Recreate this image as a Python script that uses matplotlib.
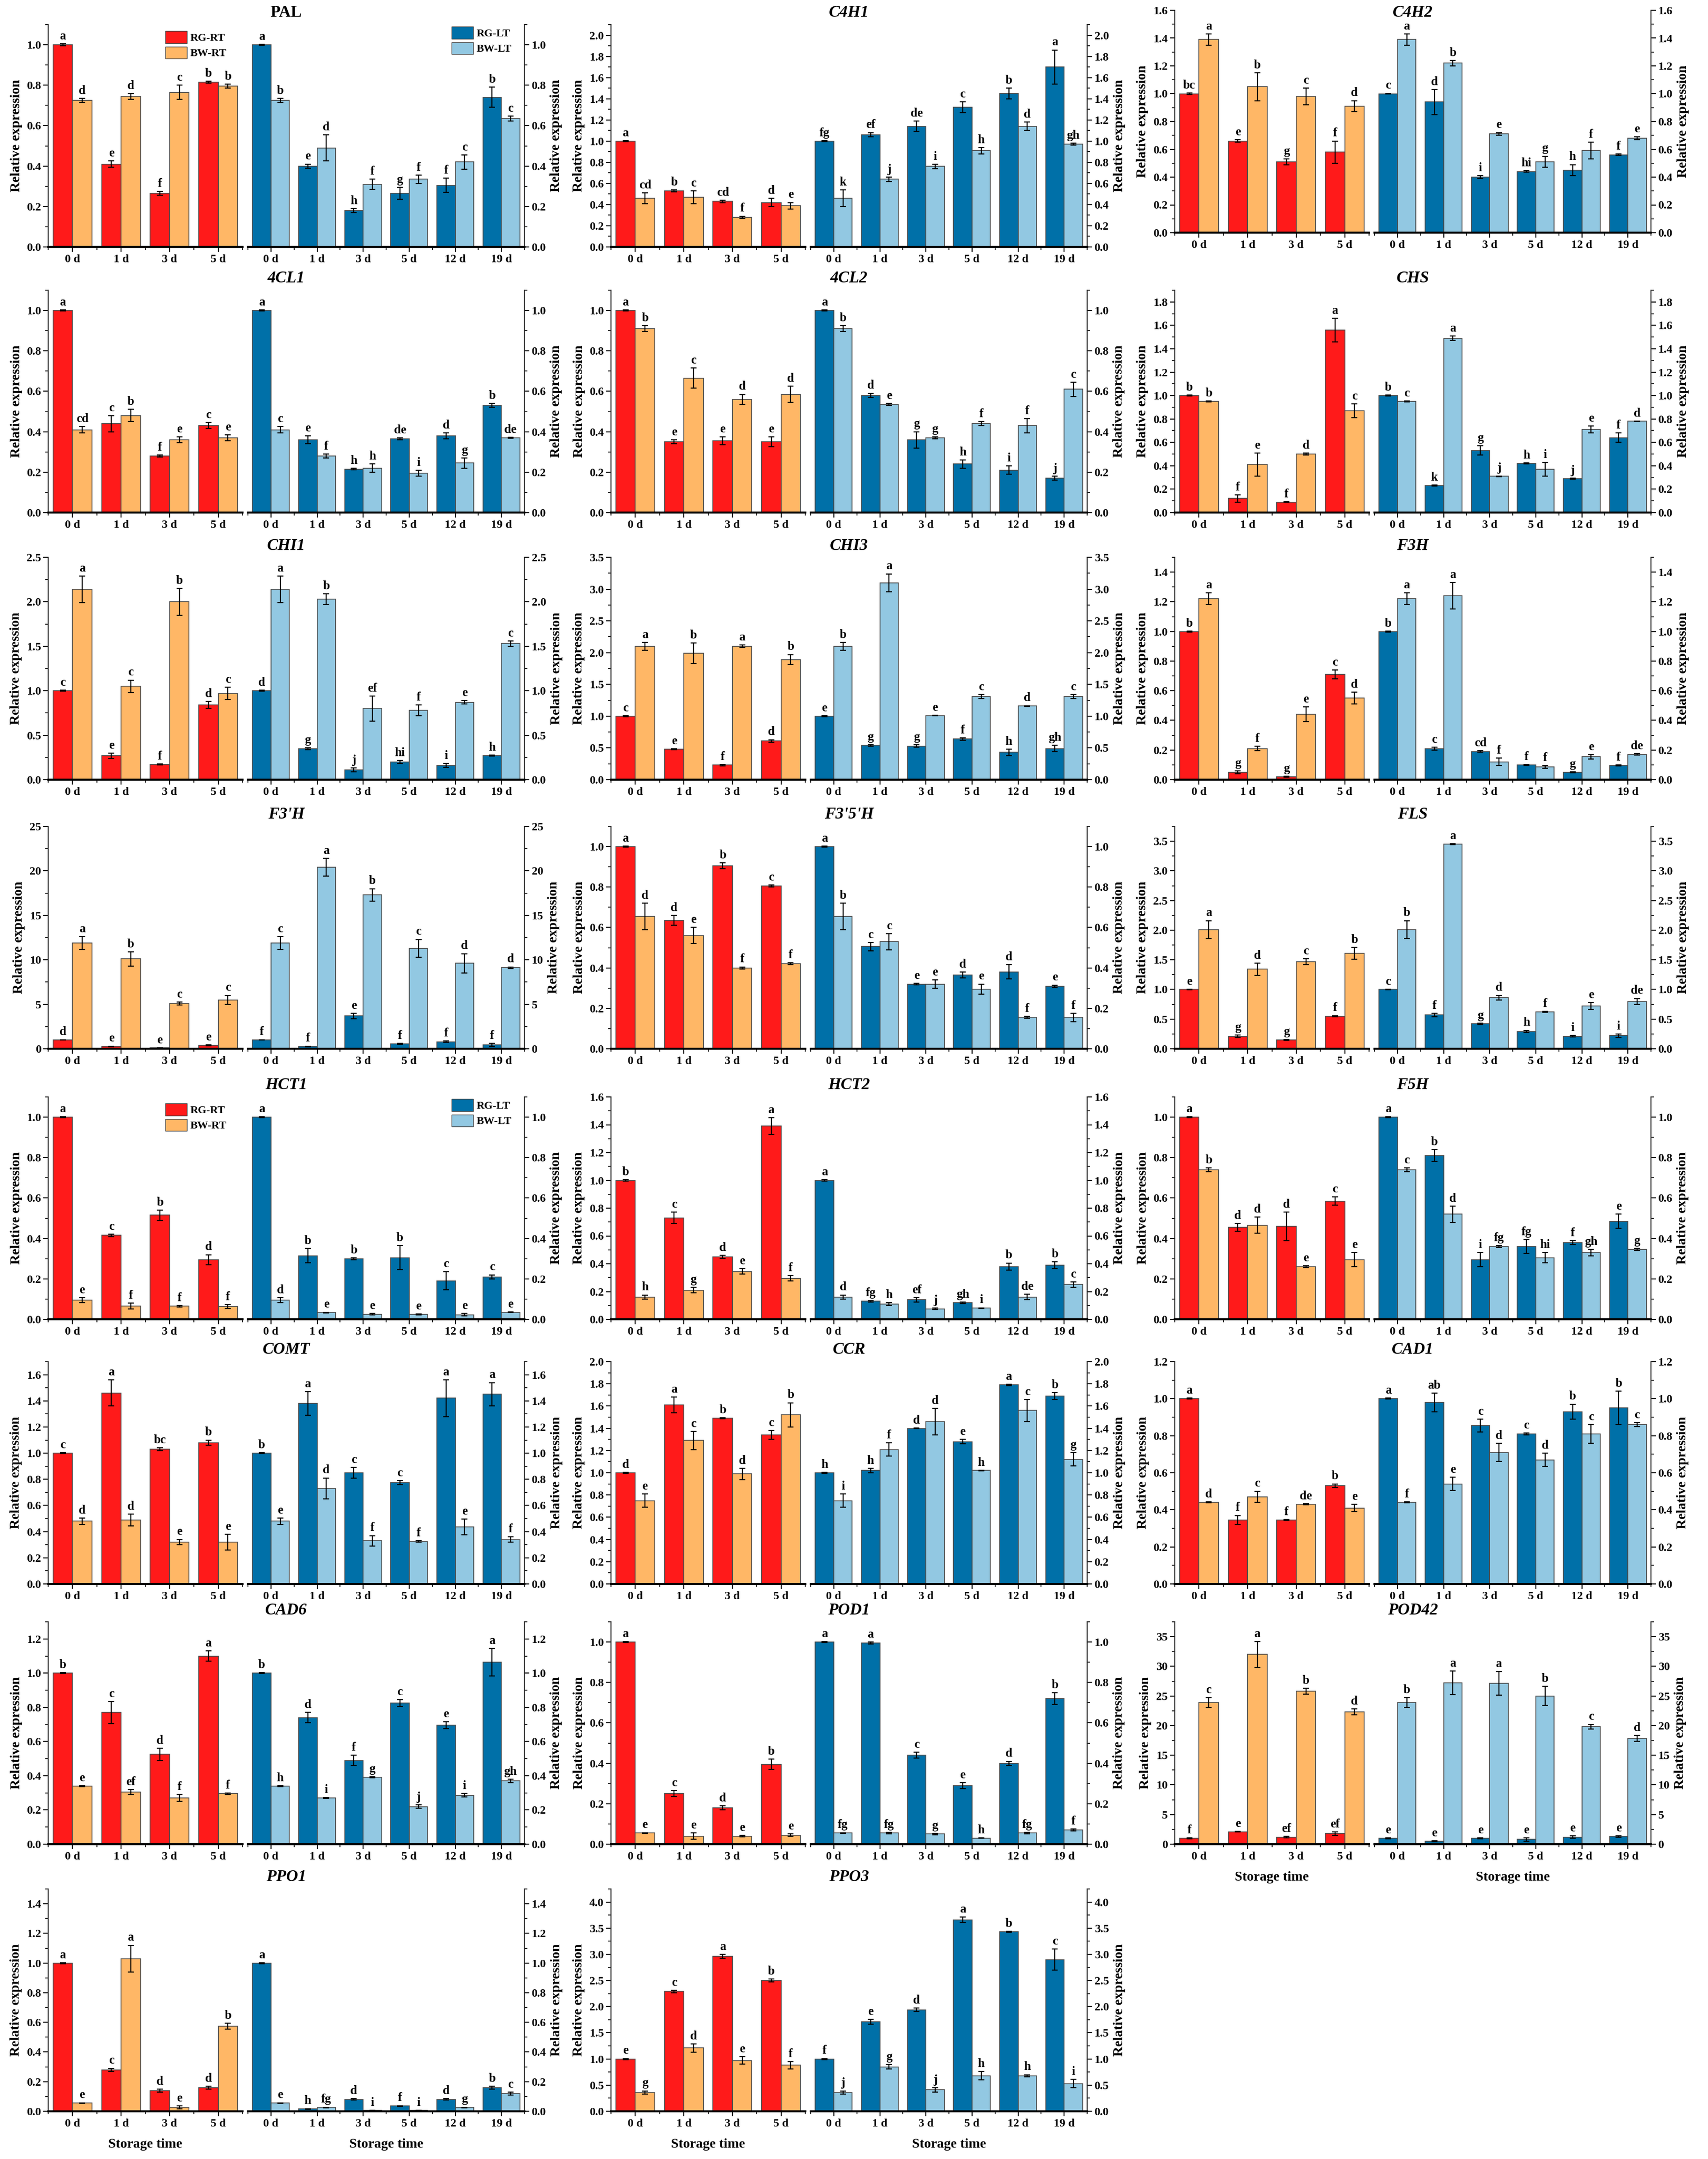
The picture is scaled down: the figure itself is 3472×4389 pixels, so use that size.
import numpy as np
import matplotlib
matplotlib.use('Agg')
import matplotlib.pyplot as plt
from matplotlib.ticker import MultipleLocator, AutoMinorLocator, FormatStrFormatter
from matplotlib.patches import Patch

# ---------------- data ----------------
genes = ['PAL', 'C4H1', 'C4H2', '4CL1', '4CL2', 'CHS', 'CHI1', 'CHI3', 'F3H',
         "F3'H", "F3'5'H", 'FLS', 'HCT1', 'HCT2', 'F5H', 'COMT', 'CCR', 'CAD1',
         'CAD6', 'POD1', 'POD42', 'PPO1', 'PPO3']
rt_days = ['0 d', '1 d', '3 d', '5 d']
lt_days = ['0 d', '1 d', '3 d', '5 d', '12 d', '19 d']

rg_rt = [
    [1.0, 0.41, 0.265, 0.815], [1.0, 0.53, 0.43, 0.42], [1.0, 0.66, 0.51, 0.58],
    [1.0, 0.44, 0.28, 0.43], [1.0, 0.35, 0.355, 0.35], [1.0, 0.12, 0.09, 1.56],
    [1.0, 0.27, 0.17, 0.84], [1.0, 0.48, 0.23, 0.61], [1.0, 0.05, 0.02, 0.71],
    [1.0, 0.25, 0.1, 0.4], [1.0, 0.635, 0.905, 0.805], [1.0, 0.21, 0.15, 0.55],
    [1.0, 0.415, 0.515, 0.295], [1.0, 0.73, 0.45, 1.39], [1.0, 0.455, 0.46, 0.585],
    [1.0, 1.46, 1.03, 1.08], [1.0, 1.61, 1.49, 1.34], [1.0, 0.345, 0.345, 0.53],
    [1.0, 0.77, 0.525, 1.10], [1.0, 0.25, 0.18, 0.395], [1.0, 2.1, 1.2, 1.8],
    [1.0, 0.28, 0.14, 0.16], [1.0, 2.29, 2.96, 2.50]]
rg_rt_err = [
    [0.005, 0.015, 0.01, 0.005], [0.005, 0.01, 0.01, 0.04], [0.005, 0.01, 0.02, 0.08],
    [0.003, 0.04, 0.005, 0.015], [0.003, 0.01, 0.02, 0.025], [0.003, 0.03, 0.003, 0.1],
    [0.005, 0.03, 0.005, 0.04], [0.005, 0.005, 0.01, 0.02], [0.003, 0.01, 0.003, 0.03],
    [0.02, 0.05, 0.02, 0.05], [0.003, 0.025, 0.015, 0.005], [0.005, 0.02, 0.005, 0.01],
    [0.003, 0.005, 0.025, 0.025], [0.005, 0.04, 0.01, 0.06], [0.003, 0.02, 0.07, 0.02],
    [0.003, 0.1, 0.01, 0.02], [0.003, 0.07, 0.005, 0.04], [0.003, 0.025, 0.003, 0.01],
    [0.003, 0.065, 0.035, 0.03], [0.003, 0.015, 0.01, 0.025], [0.05, 0.05, 0.1, 0.3],
    [0.003, 0.01, 0.01, 0.01], [0.01, 0.02, 0.04, 0.03]]
rg_rt_let = ["a e f b", "a b cd d", "bc e g f", "a c f c", "a e e e", "b f f a",
             "c e f d", "c e f d", "b g g c", "d e e e", "a d b c", "e g g f",
             "a c b d", "b c d a", "a d d c", "c a bc b", "d a b c", "a f f b",
             "b c d a", "a c d b", "f e ef ef", "a c d d", "e c a b"]

bw_rt = [
    [0.725, 0.745, 0.765, 0.795], [0.46, 0.47, 0.28, 0.39], [1.39, 1.05, 0.98, 0.91],
    [0.41, 0.48, 0.36, 0.37], [0.91, 0.665, 0.56, 0.585], [0.95, 0.41, 0.50, 0.87],
    [2.14, 1.05, 2.0, 0.97], [2.10, 1.99, 2.10, 1.89], [1.22, 0.21, 0.44, 0.55],
    [11.9, 10.1, 5.1, 5.5], [0.655, 0.56, 0.40, 0.42], [2.01, 1.34, 1.47, 1.61],
    [0.095, 0.065, 0.065, 0.063], [0.16, 0.21, 0.345, 0.295], [0.74, 0.465, 0.26, 0.295],
    [0.48, 0.49, 0.32, 0.32], [0.75, 1.29, 0.99, 1.52], [0.44, 0.47, 0.43, 0.41],
    [0.34, 0.305, 0.27, 0.295], [0.055, 0.04, 0.04, 0.045], [23.9, 32.0, 25.8, 22.3],
    [0.055, 1.03, 0.025, 0.575], [0.36, 1.21, 0.97, 0.88]]
bw_rt_err = [
    [0.01, 0.015, 0.035, 0.01], [0.05, 0.06, 0.01, 0.03], [0.04, 0.1, 0.06, 0.04],
    [0.015, 0.03, 0.015, 0.015], [0.015, 0.05, 0.025, 0.04], [0.003, 0.1, 0.01, 0.06],
    [0.15, 0.07, 0.15, 0.07], [0.06, 0.16, 0.02, 0.08], [0.04, 0.015, 0.05, 0.04],
    [0.7, 0.8, 0.15, 0.5], [0.065, 0.04, 0.005, 0.005], [0.15, 0.1, 0.05, 0.1],
    [0.012, 0.015, 0.003, 0.01], [0.015, 0.02, 0.02, 0.02], [0.01, 0.04, 0.005, 0.035],
    [0.025, 0.045, 0.02, 0.06], [0.06, 0.08, 0.05, 0.11], [0.003, 0.03, 0.003, 0.02],
    [0.003, 0.015, 0.02, 0.005], [0.002, 0.015, 0.003, 0.005], [0.8, 2.2, 0.5, 0.5],
    [0.003, 0.09, 0.01, 0.02], [0.03, 0.08, 0.07, 0.07]]
bw_rt_let = ["d d c b", "cd c f e", "a b c d", "cd b e e", "b c d d", "b e d c",
             "a c b c", "a b a b", "a f e d", "a b c c", "d e f f", "a d c b",
             "e f f f", "h g e f", "b d e e", "d d e e", "e c d b", "d c de e",
             "e ef f f", "e e e e", "c a b d", "e a e b", "g d e f"]

rg_lt = [
    [1.0, 0.40, 0.18, 0.265, 0.305, 0.74], [1.0, 1.06, 1.14, 1.32, 1.45, 1.70],
    [1.0, 0.94, 0.40, 0.44, 0.45, 0.56], [1.0, 0.36, 0.215, 0.365, 0.38, 0.53],
    [1.0, 0.58, 0.36, 0.24, 0.21, 0.17], [1.0, 0.23, 0.53, 0.42, 0.29, 0.64],
    [1.0, 0.35, 0.11, 0.20, 0.16, 0.27], [1.0, 0.54, 0.53, 0.64, 0.43, 0.49],
    [1.0, 0.21, 0.19, 0.10, 0.05, 0.095], [1.0, 0.25, 3.7, 0.55, 0.8, 0.45],
    [1.0, 0.505, 0.32, 0.365, 0.38, 0.31], [1.0, 0.57, 0.42, 0.29, 0.21, 0.22],
    [1.0, 0.315, 0.30, 0.305, 0.19, 0.21], [1.0, 0.13, 0.14, 0.12, 0.38, 0.39],
    [1.0, 0.81, 0.295, 0.36, 0.38, 0.485], [1.0, 1.38, 0.85, 0.775, 1.42, 1.45],
    [1.0, 1.02, 1.40, 1.28, 1.79, 1.69], [1.0, 0.98, 0.855, 0.81, 0.93, 0.95],
    [1.0, 0.74, 0.49, 0.825, 0.695, 1.065], [1.0, 0.995, 0.44, 0.29, 0.40, 0.72],
    [1.0, 0.5, 1.0, 0.8, 1.2, 1.3], [1.0, 0.015, 0.08, 0.035, 0.08, 0.16],
    [1.0, 1.71, 1.94, 3.66, 3.43, 2.90]]
rg_lt_err = [
    [0.003, 0.01, 0.01, 0.03, 0.035, 0.05], [0.005, 0.02, 0.05, 0.05, 0.05, 0.16],
    [0.003, 0.09, 0.01, 0.005, 0.04, 0.005], [0.003, 0.02, 0.003, 0.005, 0.015, 0.01],
    [0.003, 0.01, 0.04, 0.02, 0.02, 0.01], [0.003, 0.005, 0.04, 0.005, 0.005, 0.04],
    [0.005, 0.01, 0.02, 0.015, 0.02, 0.005], [0.005, 0.01, 0.02, 0.02, 0.05, 0.05],
    [0.003, 0.01, 0.005, 0.003, 0.002, 0.003], [0.02, 0.05, 0.3, 0.05, 0.1, 0.15],
    [0.003, 0.02, 0.003, 0.015, 0.035, 0.005], [0.005, 0.03, 0.01, 0.02, 0.01, 0.03],
    [0.003, 0.035, 0.005, 0.06, 0.045, 0.01], [0.005, 0.005, 0.015, 0.005, 0.025, 0.025],
    [0.003, 0.03, 0.035, 0.035, 0.01, 0.035], [0.003, 0.09, 0.04, 0.015, 0.14, 0.09],
    [0.003, 0.02, 0.003, 0.02, 0.005, 0.03], [0.003, 0.05, 0.035, 0.005, 0.04, 0.09],
    [0.003, 0.03, 0.03, 0.02, 0.02, 0.08], [0.003, 0.005, 0.015, 0.015, 0.01, 0.03],
    [0.05, 0.1, 0.05, 0.3, 0.2, 0.1], [0.003, 0.003, 0.005, 0.003, 0.005, 0.01],
    [0.01, 0.05, 0.03, 0.05, 0.01, 0.2]]
rg_lt_let = ["a e h g f b", "fg ef de c b a", "c d i hi h f", "a e h de d b",
             "a d g h i j", "b k g h j f", "d g j hi i h", "e g g f h gh",
             "b c cd f g f", "f f e f f f", "a c e d d e", "c f g h i i",
             "a b b b c c", "a fg ef gh b b", "a b i fg f e", "b a c c a a",
             "h h d e a b", "a ab c c b b", "b d f c e a", "a a c e d b",
             "e e e e e e", "a h d f d b", "f e d a b c"]

bw_lt = [
    [0.725, 0.49, 0.31, 0.335, 0.42, 0.635], [0.46, 0.64, 0.76, 0.91, 1.14, 0.97],
    [1.39, 1.22, 0.71, 0.51, 0.59, 0.68], [0.41, 0.28, 0.22, 0.195, 0.245, 0.37],
    [0.91, 0.535, 0.37, 0.44, 0.43, 0.61], [0.95, 1.49, 0.31, 0.37, 0.71, 0.78],
    [2.14, 2.03, 0.80, 0.78, 0.87, 1.53], [2.10, 3.10, 1.01, 1.31, 1.16, 1.31],
    [1.22, 1.24, 0.12, 0.085, 0.155, 0.17], [11.9, 20.4, 17.3, 11.3, 9.6, 9.1],
    [0.655, 0.53, 0.32, 0.295, 0.155, 0.155], [2.01, 3.45, 0.86, 0.62, 0.72, 0.80],
    [0.095, 0.033, 0.025, 0.025, 0.022, 0.035], [0.16, 0.11, 0.075, 0.08, 0.16, 0.25],
    [0.74, 0.52, 0.36, 0.305, 0.33, 0.345], [0.48, 0.73, 0.33, 0.325, 0.435, 0.34],
    [0.75, 1.21, 1.46, 1.02, 1.56, 1.12], [0.44, 0.54, 0.71, 0.67, 0.81, 0.86],
    [0.34, 0.27, 0.39, 0.22, 0.285, 0.37], [0.055, 0.055, 0.05, 0.03, 0.055, 0.07],
    [23.9, 27.2, 27.1, 25.0, 19.8, 17.8], [0.055, 0.025, 0.005, 0.005, 0.025, 0.12],
    [0.36, 0.85, 0.41, 0.68, 0.68, 0.53]]
bw_lt_err = [
    [0.01, 0.065, 0.025, 0.02, 0.035, 0.012], [0.08, 0.02, 0.02, 0.03, 0.04, 0.01],
    [0.04, 0.02, 0.01, 0.04, 0.06, 0.01], [0.015, 0.01, 0.02, 0.015, 0.025, 0.003],
    [0.015, 0.005, 0.005, 0.01, 0.035, 0.035], [0.003, 0.02, 0.003, 0.06, 0.03, 0.003],
    [0.15, 0.06, 0.14, 0.06, 0.02, 0.03], [0.06, 0.14, 0.005, 0.03, 0.005, 0.03],
    [0.04, 0.09, 0.025, 0.01, 0.015, 0.005], [0.7, 1.0, 0.7, 1.0, 1.1, 0.1],
    [0.065, 0.04, 0.02, 0.025, 0.005, 0.02], [0.15, 0.01, 0.04, 0.01, 0.06, 0.05],
    [0.012, 0.002, 0.003, 0.002, 0.006, 0.002], [0.015, 0.01, 0.005, 0.003, 0.02, 0.02],
    [0.01, 0.04, 0.005, 0.025, 0.015, 0.005], [0.025, 0.08, 0.04, 0.005, 0.06, 0.02],
    [0.06, 0.06, 0.12, 0.003, 0.1, 0.06], [0.003, 0.035, 0.05, 0.035, 0.05, 0.01],
    [0.003, 0.003, 0.003, 0.01, 0.01, 0.01], [0.002, 0.003, 0.003, 0.002, 0.003, 0.005],
    [0.8, 2.0, 2.0, 1.6, 0.4, 0.5], [0.003, 0.003, 0.002, 0.002, 0.003, 0.01],
    [0.03, 0.04, 0.04, 0.08, 0.02, 0.08]]
bw_lt_let = ["b d f f c c", "k j i h d gh", "a b e g f e", "c f h i g de",
             "b e g f f c", "c a j i e d", "a b ef f e c", "b a e c d c",
             "a a f f e de", "c a b c d d", "b c e e f f", "b a d f e de",
             "d e e e e e", "d h j i de c", "c d fg hi gh g", "e d f f e f",
             "i f d h c g", "f e d d c c", "h i g j i gh", "fg fg g h fg f",
             "b a a b c d", "e fg i i g c", "j g j h h i"]

# axis ranges (upper limit, major tick step)
y_top = [1.1, 2.1, 1.6, 1.1, 1.1, 1.9, 2.5, 3.5, 1.5, 25, 1.1, 3.75, 1.1, 1.6, 1.1,
         1.7, 2.0, 1.2, 1.3, 1.1, 37.5, 1.5, 4.25]
y_step = [0.2, 0.2, 0.2, 0.2, 0.2, 0.2, 0.5, 0.5, 0.2, 5, 0.2, 0.5, 0.2, 0.2, 0.2,
          0.2, 0.2, 0.2, 0.2, 0.2, 5, 0.2, 0.5]

# ---------------- style ----------------
plt.rcParams['font.family'] = ['Liberation Serif', 'DejaVu Serif']
plt.rcParams['font.weight'] = 'bold'
plt.rcParams['axes.labelweight'] = 'bold'

C_RG_RT = '#FF1A1A'
C_BW_RT = '#FFB766'
C_RG_LT = '#0070A8'
C_BW_LT = '#92C8E2'
EDGE = '#4a4a4a'

W, H = 3472, 4389
fig = plt.figure(figsize=(W / 100, H / 100), dpi=100)

col_left = [98, 1242, 2388]
col_w = 968
rt_w = 395
gap = 11
row_top = [50, 590, 1133, 1680, 2230, 2768, 3297, 3840]
ax_h = 452

TICK_FS = 17
LET_FS = 18
LAB_FS = 20


def rect(x0, x1, top):
    return [x0 / W, 1 - (top + ax_h) / H, (x1 - x0) / W, ax_h / H]


def draw_group(ax, rg, rge, rgl, bw, bwe, bwl, c1, c2, labels, ymax, step, side):
    n = len(labels)
    x = np.arange(n)
    w = 0.4
    ekw = dict(ecolor='black', elinewidth=1.6, capsize=4, capthick=1.6)
    ax.bar(x - w / 2, rg, w, color=c1, edgecolor=EDGE, linewidth=1.2,
           yerr=rge, error_kw=ekw, zorder=2)
    ax.bar(x + w / 2, bw, w, color=c2, edgecolor=EDGE, linewidth=1.2,
           yerr=bwe, error_kw=ekw, zorder=2)
    for xi, v, e, t in zip(x - w / 2, rg, rge, rgl.split()):
        ax.annotate(t, (xi, v + e), xytext=(0, 3), textcoords='offset points',
                    ha='center', va='bottom', fontsize=LET_FS, fontweight='bold',
                    annotation_clip=False)
    for xi, v, e, t in zip(x + w / 2, bw, bwe, bwl.split()):
        ax.annotate(t, (xi, v + e), xytext=(0, 3), textcoords='offset points',
                    ha='center', va='bottom', fontsize=LET_FS, fontweight='bold',
                    annotation_clip=False)
    ax.set_xlim(-0.5, n - 0.5)
    ax.set_ylim(0, ymax)
    ax.set_xticks(x)
    ax.set_xticklabels(labels)
    ax.set_xticks(np.arange(-0.5, n, 1.0), minor=True)
    ax.yaxis.set_major_locator(MultipleLocator(step))
    ax.yaxis.set_minor_locator(AutoMinorLocator(2))
    ax.yaxis.set_major_formatter(FormatStrFormatter('%d' if step >= 1 else '%.1f'))
    ax.spines['top'].set_visible(False)
    ax.spines['bottom'].set_linewidth(3)
    if side == 'left':
        ax.spines['right'].set_visible(False)
        ax.spines['left'].set_linewidth(1.5)
        ax.spines['left'].set_color('#333333')
    else:
        ax.spines['left'].set_visible(False)
        ax.spines['right'].set_linewidth(1.5)
        ax.spines['right'].set_color('#333333')
        ax.yaxis.tick_right()
        ax.yaxis.set_label_position('right')
    ax.tick_params(axis='both', which='major', direction='out', length=7, width=1.5,
                   labelsize=TICK_FS)
    ax.tick_params(axis='both', which='minor', direction='out', length=4, width=1.2)
    for lab in ax.get_xticklabels() + ax.get_yticklabels():
        lab.set_fontweight('bold')
    ax.set_ylabel('Relative expression', fontsize=LAB_FS, fontweight='bold', labelpad=6)


for i, g in enumerate(genes):
    r, c = divmod(i, 3)
    top = row_top[r]
    if g == 'C4H2':
        top -= 29
    L = col_left[c]
    ax1 = fig.add_axes(rect(L, L + rt_w, top))
    ax2 = fig.add_axes(rect(L + rt_w + gap, L + col_w, top))
    draw_group(ax1, rg_rt[i], rg_rt_err[i], rg_rt_let[i], bw_rt[i], bw_rt_err[i],
               bw_rt_let[i], C_RG_RT, C_BW_RT, rt_days, y_top[i], y_step[i], 'left')
    draw_group(ax2, rg_lt[i], rg_lt_err[i], rg_lt_let[i], bw_lt[i], bw_lt_err[i],
               bw_lt_let[i], C_RG_LT, C_BW_LT, lt_days, y_top[i], y_step[i], 'right')
    style = 'normal' if g == 'PAL' else 'italic'
    fig.text((L + col_w / 2) / W, 1 - (row_top[r] - 24) / H, g, ha='center', va='center',
             fontsize=24, fontweight='bold', fontstyle=style)
    if g in ('PAL', 'HCT1'):
        h1 = [Patch(facecolor=C_RG_RT, edgecolor=EDGE, label='RG-RT'),
              Patch(facecolor=C_BW_RT, edgecolor=EDGE, label='BW-RT')]
        ax1.legend(handles=h1, loc='upper left', bbox_to_anchor=(0.58, 0.99),
                   frameon=False, fontsize=16, handlelength=2.0, handleheight=1.3,
                   handletextpad=0.3, labelspacing=0.3, borderaxespad=0,
                   prop={'weight': 'bold', 'size': 16})
        h2 = [Patch(facecolor=C_RG_LT, edgecolor=EDGE, label='RG-LT'),
              Patch(facecolor=C_BW_LT, edgecolor=EDGE, label='BW-LT')]
        ax2.legend(handles=h2, loc='upper left', bbox_to_anchor=(0.72, 1.01),
                   frameon=False, fontsize=16, handlelength=2.0, handleheight=1.3,
                   handletextpad=0.3, labelspacing=0.3, borderaxespad=0,
                   prop={'weight': 'bold', 'size': 16})
    if g in ('POD42', 'PPO1', 'PPO3'):
        ax1.set_xlabel('Storage time', fontsize=LAB_FS, fontweight='bold', labelpad=14)
        ax2.set_xlabel('Storage time', fontsize=LAB_FS, fontweight='bold', labelpad=14)

fig.savefig('out.png', dpi=100)
